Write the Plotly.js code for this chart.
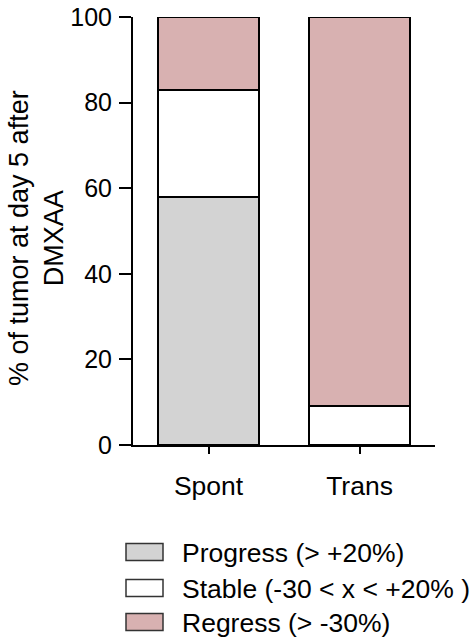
<!DOCTYPE html>
<html>
<head>
<meta charset="utf-8">
<script src="https://cdn.plot.ly/plotly-3.0.1.min.js"></script>
<style>html,body{margin:0;padding:0;background:#fff;}#chart{width:472px;height:642px;}</style>
</head>
<body>
<div id="chart"></div>
<script>
// ---- data ----
const categories = ['Spont', 'Trans'];
const progress = [58, 0];
const stable = [25, 9];
const regress = [17, 91];
const seriesNames = ['Progress (> +20%)', 'Stable (-30 < x < +20% )', 'Regress (> -30%)'];
const seriesColors = ['#d3d3d3', '#ffffff', '#d8b1b1'];
const yTicks = [0, 20, 40, 60, 80, 100];
const yTitle = '% of tumor at day 5 after<br>DMXAA';

// ---- layout helpers (pixel -> paper) ----
const W = 472, H = 642;
const M = {l: 133, r: 37, t: 17, b: 197};
const pw = W - M.l - M.r, ph = H - M.t - M.b;
const px = x => (x - M.l) / pw;
const py = y => (H - M.b - y) / ph;

const FONT = 'Liberation Sans, Arial, sans-serif';
const seriesValues = [progress, stable, regress];

const traces = seriesValues.map((vals, i) => ({
  type: 'bar',
  x: categories,
  y: vals,
  name: seriesNames[i],
  width: 0.67,
  cliponaxis: false,
  marker: {color: seriesColors[i], line: {color: '#000', width: 2}},
  showlegend: false,
  hoverinfo: 'skip'
}));

// custom legend (keys drawn larger like the reference)
const legendRows = [552, 588, 622];
const shapes = [];
const annotations = [];
seriesNames.forEach((name, i) => {
  const cy = legendRows[i];
  shapes.push({
    type: 'rect', xref: 'paper', yref: 'paper',
    x0: px(126), x1: px(163), y0: py(cy - 8.5), y1: py(cy + 8.5),
    fillcolor: seriesColors[i], line: {color: '#333', width: 1.5}
  });
  annotations.push({
    xref: 'paper', yref: 'paper', x: px(180), y: py(cy + 1),
    xanchor: 'left', yanchor: 'middle', showarrow: false,
    text: name.replace(/</g, '&lt;').replace(/>/g, '&gt;'),
    font: {family: FONT, size: 26.5, color: '#000'}
  });
});
annotations.push({
  xref: 'paper', yref: 'paper', x: px(36), y: py(238),
  xanchor: 'center', yanchor: 'middle', showarrow: false,
  textangle: -90, text: yTitle,
  font: {family: FONT, size: 27, color: '#000'}
});

const layout = {
  width: W, height: H,
  margin: M,
  paper_bgcolor: '#fff', plot_bgcolor: '#fff',
  barmode: 'stack',
  showlegend: false,
  font: {family: FONT, color: '#000'},
  xaxis: {
    type: 'category', range: [-0.5, 1.5],
    showline: true, linecolor: '#000', linewidth: 2,
    ticks: 'outside', ticklen: 7, tickwidth: 2, tickcolor: '#000',
    ticklabelstandoff: 9,
    tickfont: {family: FONT, size: 26.5, color: '#000'},
    showgrid: false, zeroline: false, fixedrange: true
  },
  yaxis: {
    range: [0, 100],
    tickvals: yTicks, ticktext: yTicks.map(String),
    showline: true, linecolor: '#000', linewidth: 2,
    ticks: 'outside', ticklen: 12, tickwidth: 2, tickcolor: '#000',
    ticklabelstandoff: 2,
    tickfont: {family: FONT, size: 25, color: '#000'},
    showgrid: false, zeroline: false, fixedrange: true
  },
  shapes: shapes,
  annotations: annotations
};

Plotly.newPlot('chart', traces, layout, {displayModeBar: false, staticPlot: true});
</script>
</body>
</html>
